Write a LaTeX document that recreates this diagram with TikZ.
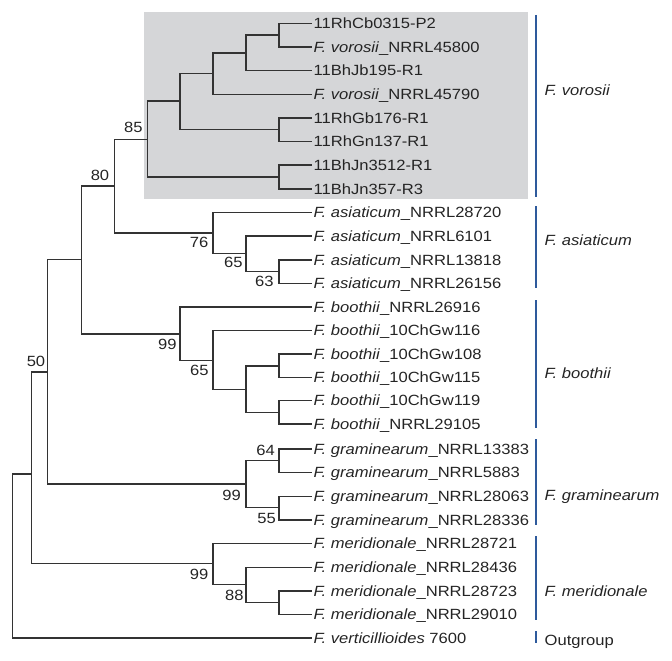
\documentclass[tikz,border=0pt]{standalone}
\usepackage{fontspec}
\setmainfont{Liberation Sans}[FakeStretch=1.12]
\definecolor{treegray}{HTML}{333333}
\definecolor{txt}{HTML}{242424}
\definecolor{bluebar}{HTML}{2E5A9C}
\definecolor{boxgray}{HTML}{D5D6D8}
\newcommand{\fs}{\fontsize{14.8}{17}\selectfont}
\begin{document}
\begin{tikzpicture}[x=1pt,y=-1pt,
  br/.style={line width=1.5pt, draw=treegray},
  leaf/.style={anchor=west, inner xsep=2pt, inner ysep=0pt, text height=14pt, text depth=3.6pt, font=\fs, text=txt},
  bs/.style={inner sep=0pt, font=\fs, text=txt},
  grp/.style={anchor=west, inner sep=0pt, text height=14pt, text depth=3.6pt, font=\fs, text=txt},
  bar/.style={draw=bluebar, line width=1.3pt}]
\useasboundingbox (0,0) rectangle (672,661);
% shaded clade
\fill[boxgray] (144.3,11.7) rectangle (527.7,199.3);
% internal nodes
\coordinate (A) at (279,35.1);
\coordinate (B) at (246,52.9);
\coordinate (C) at (213,73.6);
\coordinate (D) at (279,129.7);
\coordinate (E) at (180,101.2);
\coordinate (F) at (279,177.0);
\coordinate (G) at (147.3,139.3);
\coordinate (K) at (279,271.6);
\coordinate (J) at (246,253.5);
\coordinate (I) at (213,233);
\coordinate (H) at (114.3,186);
\coordinate (Q) at (279,366);
\coordinate (R) at (279,412.5);
\coordinate (P) at (246,389.5);
\coordinate (O) at (213,360.5);
\coordinate (M) at (180,334);
\coordinate (N80) at (81.3,259.5);
\coordinate (S1) at (279,460.3);
\coordinate (S2) at (279,507.5);
\coordinate (S) at (246,484.2);
\coordinate (N50) at (47.3,371.8);
\coordinate (W) at (279,602.7);
\coordinate (V) at (246,584.6);
\coordinate (U) at (213,563.5);
\coordinate (T) at (31.7,474);
\coordinate (Root) at (12.7,556);
% leaves
\node[leaf] (l1) at (311.5,23.3) {11RhCb0315-P2};
\node[leaf] (l2) at (311.5,46.95) {\textit{F. vorosii}\_NRRL45800};
\node[leaf] (l3) at (311.5,70.6) {11BhJb195-R1};
\node[leaf] (l4) at (311.5,94.25) {\textit{F. vorosii}\_NRRL45790};
\node[leaf] (l5) at (311.5,117.9) {11RhGb176-R1};
\node[leaf] (l6) at (311.5,141.55) {11RhGn137-R1};
\node[leaf] (l7) at (311.5,165.2) {11BhJn3512-R1};
\node[leaf] (l8) at (311.5,188.85) {11BhJn357-R3};
\node[leaf] (l9) at (311.5,212.5) {\textit{F. asiaticum}\_NRRL28720};
\node[leaf] (l10) at (311.5,236.15) {\textit{F. asiaticum}\_NRRL6101};
\node[leaf] (l11) at (311.5,259.8) {\textit{F. asiaticum}\_NRRL13818};
\node[leaf] (l12) at (311.5,283.45) {\textit{F. asiaticum}\_NRRL26156};
\node[leaf] (l13) at (311.5,307.1) {\textit{F. boothii}\_NRRL26916};
\node[leaf] (l14) at (311.5,330.5) {\textit{F. boothii}\_10ChGw116};
\node[leaf] (l15) at (311.5,354) {\textit{F. boothii}\_10ChGw108};
\node[leaf] (l16) at (311.5,377.3) {\textit{F. boothii}\_10ChGw115};
\node[leaf] (l17) at (311.5,400.7) {\textit{F. boothii}\_10ChGw119};
\node[leaf] (l18) at (311.5,424.2) {\textit{F. boothii}\_NRRL29105};
\node[leaf] (l19) at (311.5,449.0) {\textit{F. graminearum}\_NRRL13383};
\node[leaf] (l20) at (311.5,472.65) {\textit{F. graminearum}\_NRRL5883};
\node[leaf] (l21) at (311.5,496.3) {\textit{F. graminearum}\_NRRL28063};
\node[leaf] (l22) at (311.5,519.95) {\textit{F. graminearum}\_NRRL28336};
\node[leaf] (l23) at (311.5,543.6) {\textit{F. meridionale}\_NRRL28721};
\node[leaf] (l24) at (311.5,567.25) {\textit{F. meridionale}\_NRRL28436};
\node[leaf] (l25) at (311.5,590.9) {\textit{F. meridionale}\_NRRL28723};
\node[leaf] (l26) at (311.5,614.55) {\textit{F. meridionale}\_NRRL29010};
\node[leaf] (l27) at (311.5,638.2) {\textit{F. verticillioides} 7600};
% branches to leaves
\foreach \p/\c in {A/l1,A/l2,B/l3,C/l4,D/l5,D/l6,F/l7,F/l8,I/l9,J/l10,K/l11,K/l12,
  M/l13,O/l14,Q/l15,Q/l16,R/l17,R/l18,S1/l19,S1/l20,S2/l21,S2/l22,U/l23,V/l24,W/l25,W/l26,Root/l27}
  \draw[br] (\p) |- (\c.west);
% internal branches
\foreach \p/\c in {B/A,C/B,E/C,E/D,G/E,G/F,H/G,H/I,I/J,J/K,N80/H,N80/M,M/O,O/P,P/Q,P/R,
  N50/N80,N50/S,S/S1,S/S2,T/N50,T/U,U/V,V/W,Root/T}
  \draw[br] (\p) |- (\c);
% bootstrap values
\node[bs] (b85) at (133.3,127.7) {85};
\node[bs] (b80) at (100,175) {80};
\node[bs] (b76) at (199,242.3) {76};
\node[bs] (b65a) at (233.3,262.7) {65};
\node[bs] (b63) at (264.3,281.7) {63};
\node[bs] (b99a) at (167.3,344) {99};
\node[bs] (b65b) at (199.3,370.7) {65};
\node[bs] (b50) at (36,361.7) {50};
\node[bs] (b64) at (265.7,450.7) {64};
\node[bs] (b99b) at (231.7,495.7) {99};
\node[bs] (b55) at (266.7,518.3) {55};
\node[bs] (b99c) at (199,574.3) {99};
\node[bs] (b88) at (234.3,595.7) {88};
% group bars
\draw[bar] (536,15) coordinate (v1) -- (536,196.7) coordinate (v2);
\draw[bar] (536,206) coordinate (a1) -- (536,288.3) coordinate (a2);
\draw[bar] (536,300) coordinate (t1) -- (536,428.3) coordinate (t2);
\draw[bar] (536,439) coordinate (g1) -- (536,524.5) coordinate (g2);
\draw[bar] (536,536) coordinate (m1) -- (536,620) coordinate (m2);
\draw[bar] (536,631) coordinate (o1) -- (536,643.3) coordinate (o2);
% group labels
\node[grp] (gv) at (544.5,90) {\textit{F. vorosii}};
\node[grp] (ga) at (544.5,240.7) {\textit{F. asiaticum}};
\node[grp] (gb) at (544.5,373.3) {\textit{F. boothii}};
\node[grp] (gg) at (544.5,495) {\textit{F. graminearum}};
\node[grp] (gm) at (544.5,591) {\textit{F. meridionale}};
\node[grp] (go) at (544.5,640) {Outgroup};
\end{tikzpicture}
\end{document}
